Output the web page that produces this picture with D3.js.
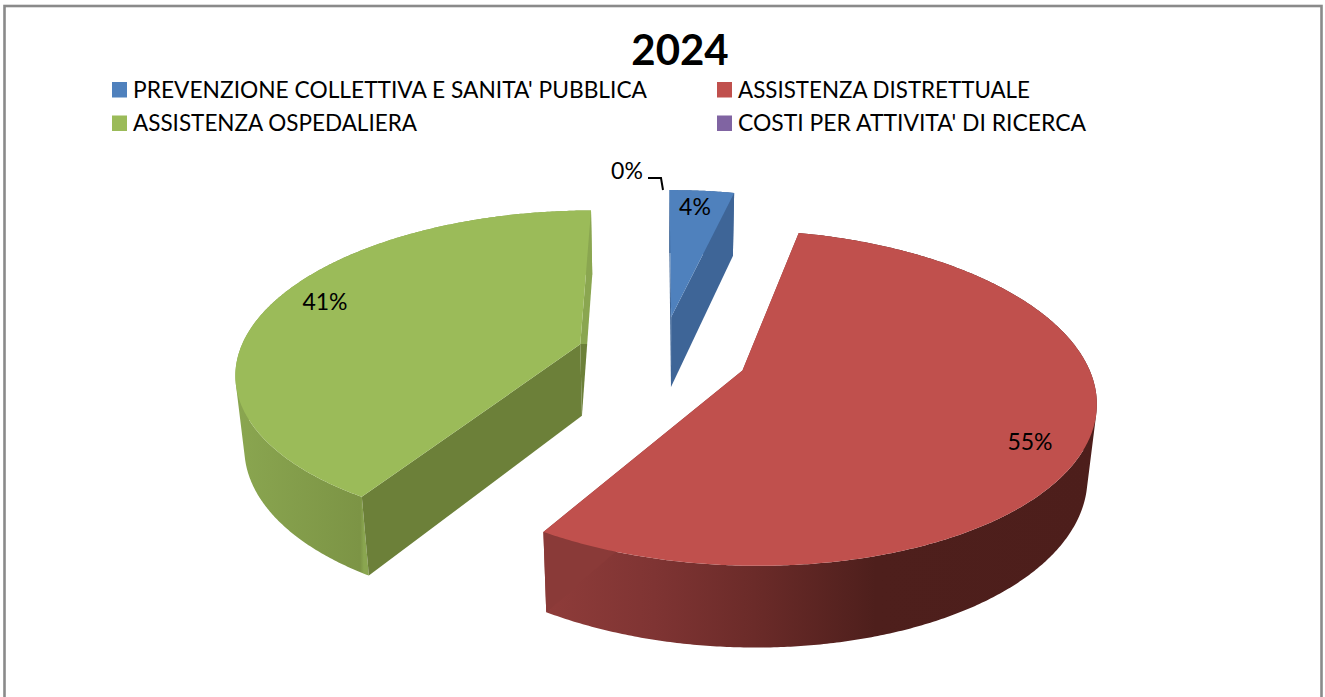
<!DOCTYPE html>
<html><head><meta charset="utf-8"><style>html,body{margin:0;background:#fff;overflow:hidden}svg{display:block}text{font-family:Lato,"Noto Sans",sans-serif;fill:#000}</style>
<script src="https://cdn.jsdelivr.net/npm/d3@7"></script></head><body><svg id="c" width="1325" height="697"></svg>
<script>
const title = "2024";
const categories = ["PREVENZIONE COLLETTIVA E SANITA' PUBBLICA","ASSISTENZA DISTRETTUALE","ASSISTENZA OSPEDALIERA","COSTI PER ATTIVITA' DI RICERCA"];
const values = [3.63, 55.21, 41.16, 0];
const colors = ["#4f81bd","#c0504d","#9bbb59","#8064a2"];
const sideColors = ["#3e6597","#8a3a38","#6c8039","#5f4a7a"];
const wallStops = [
  [["0%","#3e6597"],["100%","#3e6597"]],
  [["0%","#8f3c3a"],["20%","#7f3433"],["38%","#6b2b29"],["60%","#4e1f1c"],["100%","#4d1e1b"]],
  [["0%","#8aa650"],["35%","#7c9445"],["36%","#8aa650"],["100%","#8aa650"]],
  [["0%","#5f4a7a"],["100%","#5f4a7a"]]
];
const legendTextWidths = [514, 292, 284, 348];
const labelPos = [[695,207],[1030,442],[325,302],[627,171]];

const svg = d3.select("#c");
const view = {cx:661.9, cy:355.05, A:341.9, B:158.55, p:0.1606, q:0.021, C:73.5, explode:0.2509, start:-0.0015};
const sx = d3.scaleLinear().domain([-1,1]).range([view.cx-view.A, view.cx+view.A]);
const sy = d3.scaleLinear().domain([-1,1]).range([view.cy+view.B, view.cy-view.B]);
const sz = d3.scaleLinear().domain([0,1]).range([0,view.C]);
function proj(X,Y,Z){
  const w = 1+view.p*Y+view.q*Z;
  return [view.cx+(sx(X)-view.cx)/w, view.cy+(sy(Y)-view.cy)/w+sz(Z)/w];
}
const pie = d3.pie().sort(null).value(d=>d).startAngle(view.start).endAngle(view.start+2*Math.PI);
const arcs = pie(values);
const line = d3.line();

// frame: the bottom edge lies outside the picture
svg.append("rect").attr("x",4.5).attr("y",6).attr("width",1317).attr("height",720)
  .attr("fill","none").attr("stroke","#8a8a8a").attr("stroke-width",2.6);

const defs = svg.append("defs");
const g = svg.append("g");
arcs.forEach((a,i)=>{
  if(a.endAngle-a.startAngle<1e-6) return;
  const m=(a.startAngle+a.endAngle)/2, ox=view.explode*Math.sin(m), oy=view.explode*Math.cos(m);
  const pt=(t,r,Z)=>proj(ox+r*Math.sin(t),oy+r*Math.cos(t),Z);
  const n=Math.ceil((a.endAngle-a.startAngle)*120);
  const ts=d3.range(n+1).map(k=>a.startAngle+(a.endAngle-a.startAngle)*k/n);
  const top=ts.map(t=>pt(t,1,0)), bot=ts.map(t=>pt(t,1,1));
  const ax=pt(0,0,0), ax1=pt(0,0,1);
  // outer wall: ruled strips of one winding in a single path, so there are no seams
  // and the silhouette is the tangent between the two rims
  const ext=d3.extent(top.concat(bot),p=>p[0]);
  const gr=defs.append("linearGradient").attr("id","w"+i).attr("gradientUnits","userSpaceOnUse")
    .attr("x1",ext[0]).attr("x2",ext[1]).attr("y1",0).attr("y2",0);
  wallStops[i].forEach(s=>gr.append("stop").attr("offset",s[0]).attr("stop-color",s[1]));
  const wall=d3.range(n).map(k=>{
    const q=[top[k],top[k+1],bot[k+1],bot[k]];
    return line(d3.polygonArea(q)<0?q.reverse():q)+"Z";
  }).join("");
  g.append("path").attr("d",wall).attr("fill",`url(#w${i})`).attr("fill-rule","nonzero");
  // radial walls: the far one of the green slice catches the light above the apex
  g.append("path").attr("d",line([ax,top[0],bot[0],ax1])+"Z").attr("fill",sideColors[i]);
  let endFill=sideColors[i];
  if(i===2){
    const y0=top[n][1], y1=ax1[1];
    const eg=defs.append("linearGradient").attr("id","e"+i).attr("gradientUnits","userSpaceOnUse")
      .attr("x1",0).attr("x2",0).attr("y1",y0).attr("y2",y1);
    const f=(ax[1]-y0)/(y1-y0);
    [[0,wallStops[2][2][1]],[f,wallStops[2][2][1]],[f,sideColors[2]],[1,sideColors[2]]]
      .forEach(s=>eg.append("stop").attr("offset",s[0]).attr("stop-color",s[1]));
    endFill=`url(#e${i})`;
  }
  g.append("path").attr("d",line([ax,top[n],bot[n],ax1])+"Z").attr("fill",endFill);
  // top face
  g.append("path").attr("d",line([ax].concat(top))+"Z").attr("fill",colors[i]);
});

// leader of the 0% label
svg.append("path").attr("d",line([[648,178],[661,178],[663,190]])).attr("fill","none").attr("stroke","#000").attr("stroke-width",2);

// data labels
svg.selectAll("text.v").data(values).join("text").attr("class","v")
  .attr("x",(d,i)=>labelPos[i][0]).attr("y",(d,i)=>labelPos[i][1]+8)
  .attr("text-anchor","middle").attr("font-size",23)
  .text(d=>d3.format(".0f")(d)+"%");

// title
svg.append("text").attr("x",680).attr("y",65).attr("text-anchor","middle")
  .attr("font-size",42).attr("font-weight",700).text(title);

// legend
const lx=[112,717], ly=[82,115.5];
categories.forEach((c,i)=>{
  const col=i%2,row=(i-col)/2;
  svg.append("rect").attr("x",lx[col]).attr("y",ly[row]).attr("width",15).attr("height",15.5).attr("fill",colors[i]);
  svg.append("text").attr("x",lx[col]+21).attr("y",ly[row]+15.7).attr("font-size",22.5)
    .attr("textLength",legendTextWidths[i]).attr("lengthAdjust","spacingAndGlyphs").text(c);
});
</script></body></html>
